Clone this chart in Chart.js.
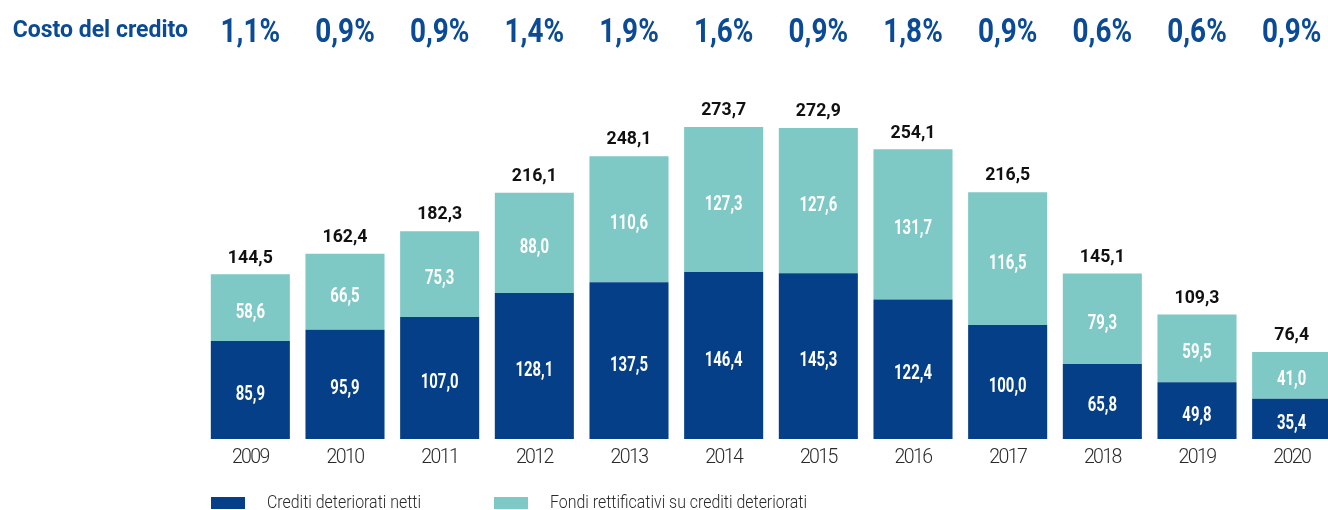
<!DOCTYPE html>
<html>
<head>
<meta charset="utf-8">
<script src="https://cdn.jsdelivr.net/npm/chart.js@4/dist/chart.umd.min.js"></script>
<style>
  html, body { margin: 0; padding: 0; background: #ffffff; overflow: hidden; }
  #wrap { width: 1341px; height: 510px; }
</style>
</head>
<body>
<div id="wrap"><canvas id="c" width="1341" height="510"></canvas></div>
<script>
// ---- data ----
const years = ['2009','2010','2011','2012','2013','2014','2015','2016','2017','2018','2019','2020'];
const creditiNetti = [85.9, 95.9, 107.0, 128.1, 137.5, 146.4, 145.3, 122.4, 100.0, 65.8, 49.8, 35.4];
const fondiRettificativi = [58.6, 66.5, 75.3, 88.0, 110.6, 127.3, 127.6, 131.7, 116.5, 79.3, 59.5, 41.0];
const totali = [144.5, 162.4, 182.3, 216.1, 248.1, 273.7, 272.9, 254.1, 216.5, 145.1, 109.3, 76.4];
const costoCredito = ['1,1%','0,9%','0,9%','1,4%','1,9%','1,6%','0,9%','1,8%','0,9%','0,6%','0,6%','0,9%'];
const headerLabel = 'Costo del credito';
const seriesLabels = ['Crediti deteriorati netti', 'Fondi rettificativi su crediti deteriorati'];

// ---- style ----
const NAVY = '#043f87';
const TEAL = '#7ec8c5';
const HEAD = '#0b4a95';
const fmt = v => v.toFixed(1).replace('.', ',');

function txt(ctx, s, x, y, font, color, sx, align) {
  ctx.save();
  ctx.font = font;
  ctx.fillStyle = color;
  ctx.textBaseline = 'alphabetic';
  ctx.textAlign = 'left';
  const w = ctx.measureText(s).width * sx;
  const x0 = align === 'center' ? x - w / 2 : (align === 'right' ? x - w : x);
  ctx.translate(x0, y);
  ctx.scale(sx, 1);
  ctx.fillText(s, 0, 0);
  ctx.restore();
}
function fitScale(ctx, s, font, target) {
  ctx.save(); ctx.font = font; const w = ctx.measureText(s).width; ctx.restore();
  return target / w;
}

const labelsPlugin = {
  id: 'labelsPlugin',
  beforeDraw(chart) {
    // slightly tighter tick labels (condensed look of the original)
    try { chart.ctx.letterSpacing = '-1.6px'; } catch (e) {}
  },
  beforeDatasetsDraw(chart) {
    try { chart.ctx.letterSpacing = '0px'; } catch (e) {}
  },
  afterDatasetsDraw(chart) {
    const ctx = chart.ctx;
    const xs = chart.scales.x;
    const inFont = '700 19.7px Roboto';
    const totFont = '700 19px Roboto';
    const pctFont = '700 33px Roboto';
    const inSx = fitScale(ctx, '85,9', inFont, 29.3);
    const totSx = fitScale(ctx, '144,5', totFont, 45);
    const pctSx = fitScale(ctx, '1,1%', pctFont, 59.5);
    // values inside segments
    chart.data.datasets.forEach((ds, di) => {
      const meta = chart.getDatasetMeta(di);
      meta.data.forEach((el, j) => {
        const cy = (el.y + el.base) / 2 + 3;
        txt(ctx, fmt(ds.data[j]), el.x, cy + 7, inFont, '#ffffff', inSx, 'center');
      });
    });
    // totals
    const topMeta = chart.getDatasetMeta(chart.data.datasets.length - 1);
    topMeta.data.forEach((el, j) => {
      txt(ctx, fmt(totali[j]), el.x, el.y - 11.7, totFont, '#111111', totSx, 'center');
    });
    // header row
    txt(ctx, headerLabel, 12.7, 37.3, '700 23px Roboto', HEAD, 1, 'left');
    years.forEach((y, j) => {
      txt(ctx, costoCredito[j], xs.getPixelForValue(j), 41.5, pctFont, HEAD, pctSx, 'center');
    });
    // legend
    const lgFont = '300 19px Roboto';
    const lgSx = fitScale(ctx, seriesLabels[0], lgFont, 154);
    const sw = [211, 494];
    const tx = [267, 550];
    chart.data.datasets.forEach((ds, di) => {
      ctx.save();
      ctx.fillStyle = ds.backgroundColor;
      ctx.fillRect(sw[di], 497, 34, 12);
      ctx.restore();
      txt(ctx, ds.label, tx[di], 507.5, lgFont, '#2a2a2a', lgSx, 'left');
    });
  }
};

new Chart(document.getElementById('c'), {
  type: 'bar',
  data: {
    labels: years,
    datasets: [
      { label: seriesLabels[0], data: creditiNetti, backgroundColor: NAVY, borderWidth: 0, barPercentage: 0.835, categoryPercentage: 1.0 },
      { label: seriesLabels[1], data: fondiRettificativi, backgroundColor: TEAL, borderWidth: 0, barPercentage: 0.835, categoryPercentage: 1.0 }
    ]
  },
  options: {
    responsive: false,
    animation: false,
    devicePixelRatio: 1,
    layout: { padding: { left: 203, right: 2, top: 97, bottom: 0 } },
    plugins: { legend: { display: false }, tooltip: { enabled: false } },
    scales: {
      x: {
        stacked: true,
        grid: { display: false, drawTicks: false },
        border: { display: false },
        ticks: {
          color: '#2a2a2a',
          padding: 7,
          maxRotation: 0,
          font: { family: 'Roboto, sans-serif', size: 19.5, weight: 300 }
        },
        afterFit: s => { s.height = 71; }
      },
      y: { stacked: true, display: false, min: 0, max: 300 }
    }
  },
  plugins: [labelsPlugin]
});
</script>
</body>
</html>
